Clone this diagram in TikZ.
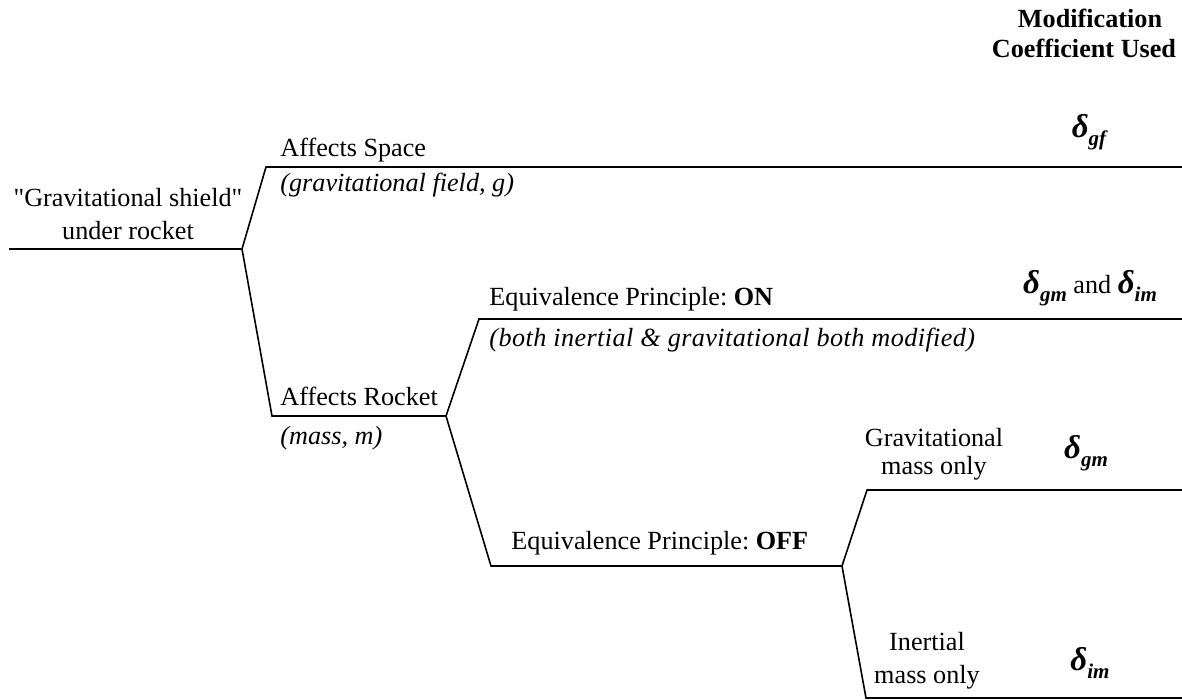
\documentclass[tikz,border=0pt]{standalone}
\usepackage{fontspec}
\setmainfont{Liberation Serif}
\newcommand{\dsub}[2]{{\bfseries\itshape{\fontsize{16.5}{18}\selectfont #1}\raisebox{-4pt}{\fontsize{10.5}{11}\selectfont #2}}}
\begin{document}
\frenchspacing
\begin{tikzpicture}[x=0.5pt,y=-0.5pt,
  branch/.style={line width=0.8pt, line join=miter},
  lbl/.style={inner sep=0pt, font=\fontsize{13.1}{15}\selectfont},
  lw/.style={lbl, anchor=base west},
  lc/.style={lbl, anchor=base},
  hd/.style={lbl, anchor=base, font=\fontsize{13.1}{15}\selectfont\bfseries}]
\useasboundingbox (0,0) rectangle (1182,700);
% branch points
\coordinate (r0) at (9,249);
\coordinate (r1) at (242,249);
\coordinate (s0) at (266,167);
\coordinate (s1) at (1182,167);
\coordinate (k0) at (272,416);
\coordinate (k1) at (446,416);
\coordinate (on0) at (479,319);
\coordinate (on1) at (1182,319);
\coordinate (off0) at (491,566);
\coordinate (off1) at (842,566);
\coordinate (g0) at (867,490);
\coordinate (g1) at (1182,490);
\coordinate (i0) at (866,698);
\coordinate (i1) at (1182,698);
\draw[branch] (r0) -- (r1) -- (s0) -- (s1);
\draw[branch] (r1) -- (k0) -- (k1) -- (on0) -- (on1);
\draw[branch] (k1) -- (off0) -- (off1) -- (g0) -- (g1);
\draw[branch] (off1) -- (i0) -- (i1);
% header
\node[hd] (h1) at (1090,28) {Modification};
\node[hd] (h2) at (1084,58) {Coefficient Used};
% root
\node[lc] (root1) at (128,206) {\textquotedbl Gravitational shield\textquotedbl};
\node[lc] (root2) at (128,240) {under rocket};
% space
\node[lw] (sp1) at (280,157) {Affects Space};
\node[lw] (sp2) at (280,192) {\itshape (gravitational field, g)};
\node[lc] (dgf) at (1089,138) {\dsub{δ}{gf}};
% rocket
\node[lw] (rk1) at (280,405) {Affects Rocket};
\node[lw] (rk2) at (280,444) {\itshape (mass, m)};
% EP on
\node[lw] (on) at (489,305) {Equivalence Principle: \textbf{ON}};
\node[lw] (onb) at (489,346) {\itshape\addfontfeature{LetterSpace=1.6}(both inertial \& gravitational both modified)};
\node[lc] (don) at (1090,293) {\dsub{δ}{gm} and \dsub{δ}{im}};
% EP off
\node[lw] (off) at (511,549) {Equivalence Principle: \textbf{OFF}};
% grav
\node[lc] (gm1) at (934,446) {Gravitational};
\node[lc] (gm2) at (934,474) {mass only};
\node[lc] (dgm) at (1086,458) {\dsub{δ}{gm}};
% inertial
\node[lc] (im1) at (927,650) {Inertial};
\node[lc] (im2) at (927,683) {mass only};
\node[lc] (dim) at (1090,670) {\dsub{δ}{im}};
\end{tikzpicture}
\end{document}
